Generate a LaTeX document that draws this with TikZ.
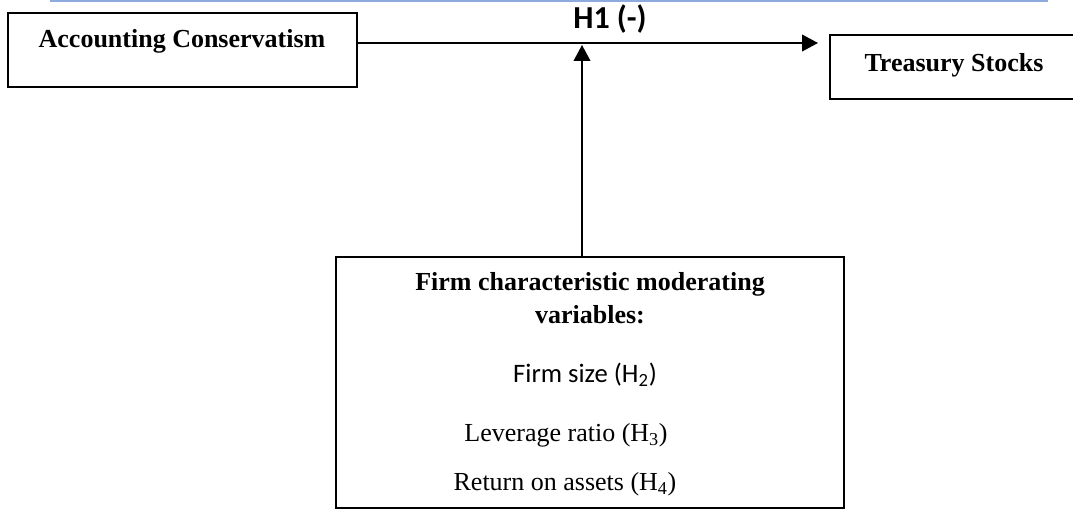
\documentclass[tikz,border=0pt]{standalone}
\usepackage{fontspec}
\setmainfont{Liberation Serif}
\newfontfamily\calibri{Carlito}
\usetikzlibrary{arrows.meta, positioning}
\definecolor{ruleblue}{RGB}{143,170,220}
\tikzset{
  varbox/.style={rectangle, draw=black, line width=1.5pt, inner sep=0pt},
  boldtext/.style={font=\fontsize{19.5}{23}\selectfont\bfseries, inner sep=0pt, anchor=base},
  plaintext/.style={font=\fontsize{19.5}{23}\selectfont, inner sep=0pt, anchor=base},
  sanstext/.style={font=\calibri\fontsize{20}{24}\selectfont, inner sep=0pt, anchor=base},
  arrow/.style={-{Triangle[width=12.5pt,length=12pt]}, line width=1.4pt}
}

\begin{document}
\begin{tikzpicture}[x=0.75pt, y=-0.75pt]
  \useasboundingbox (0,0) rectangle (1073,509);
  \clip (0,0) rectangle (1073,509);

  % Rule at the top
  \draw[ruleblue, line width=1.6pt] (50,0.8) -- (1048,0.8);

  % Independent and dependent variables
  \node[varbox, minimum width=261.75pt, minimum height=55.5pt] (acc) at (182.5,50) {};
  \node[boldtext] (acctext) at (182,48) {Accounting Conservatism};
  \node[varbox, minimum width=210pt, minimum height=48pt] (tres) at (970,67) {};
  \node[boldtext] (trestext) at (954,72) {Treasury Stocks};

  % Main path
  \coordinate (hstart) at (357,43);
  \coordinate (htip) at (818,43);
  \draw[arrow] (hstart) -- (htip);
  \node[boldtext, font=\calibri\fontsize{24}{28}\selectfont\bfseries] (hone) at (610,29) {H1 (-)};

  % Moderators
  \node[varbox, minimum width=381pt, minimum height=188.25pt] (moder) at (590,382.5) {};
  \node[boldtext] (modtitle) at (590,291) {Firm characteristic moderating};
  \node[boldtext] (modtitleb) at (590,323) {variables:};
  \node[sanstext] (size) at (585,382) {Firm size (H\textsubscript{2})};
  \node[plaintext] (lev) at (566,441) {Leverage ratio (H\textsubscript{3})};
  \node[plaintext] (roa) at (565,490) {Return on assets (H\textsubscript{4})};

  \coordinate (vtip) at (582,45);
  \draw[arrow] (moder.north -| vtip) -- (vtip);
\end{tikzpicture}
\end{document}
